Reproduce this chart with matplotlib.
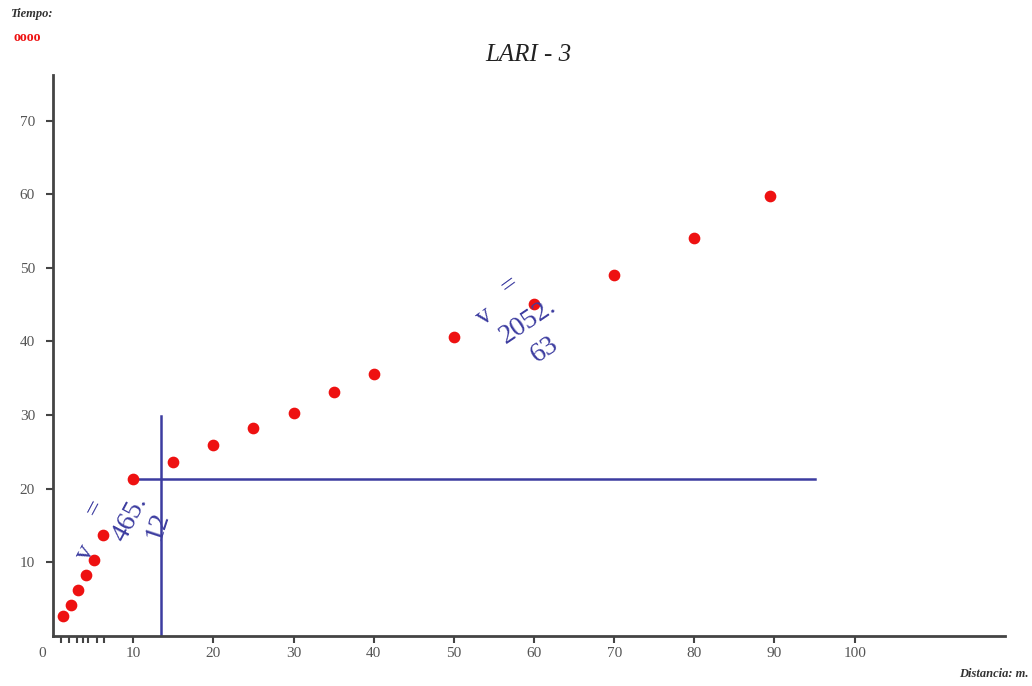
import matplotlib.pyplot as plt
from matplotlib.ticker import FixedLocator

# data
distancia = [1.2, 2.3, 3.1, 4.1, 5.1, 6.2, 10, 15, 20, 25, 30, 35, 40, 50, 60, 70, 80, 89.5]
tiempo = [2.7, 4.2, 6.3, 8.3, 10.3, 13.7, 21.3, 23.6, 26.0, 28.3, 30.3, 33.2, 35.6,
          40.6, 45.1, 49.0, 54.1, 59.8]
x_ticks = [10, 20, 30, 40, 50, 60, 70, 80, 90, 100]
x_minor = [1, 2, 3, 3.7, 4.4, 5.5, 6.4]
y_ticks = [10, 20, 30, 40, 50, 60, 70]

# crossover lines
t_cross = 21.3
x_cross = 13.5
x_line_end = 95
t_line_end = 29.9

serif = ['Liberation Serif', 'DejaVu Serif']
blue = '#3c3ca0'
grey = '#555555'

fig = plt.figure(figsize=(10.32, 6.86), dpi=100)
ax = fig.add_axes([0.0514, 0.0729, 0.922, 0.818])

ax.scatter(distancia, tiempo, s=55, color='#ee1111', zorder=3)
ax.plot([distancia[6], x_line_end], [t_cross, t_cross], color=blue, lw=1.8)
ax.plot([x_cross, x_cross], [0, t_line_end], color=blue, lw=1.8)

ax.set_xlim(0, 118.7)
ax.set_ylim(0, 76.2)

for s in ['top', 'right']:
    ax.spines[s].set_visible(False)
for s in ['left', 'bottom']:
    ax.spines[s].set_color('#444444')
    ax.spines[s].set_linewidth(2)

ax.set_xticks(x_ticks)
ax.set_yticks(y_ticks)
ax.xaxis.set_minor_locator(FixedLocator(x_minor))
ax.tick_params(axis='both', which='major', direction='out', length=5, width=1.5,
               color='#444444', labelcolor=grey, labelsize=11)
ax.tick_params(axis='x', which='minor', direction='out', length=5, width=1.5, color='#444444')
ax.tick_params(axis='y', pad=8)
ax.tick_params(axis='x', pad=3)
for lbl in ax.get_xticklabels() + ax.get_yticklabels():
    lbl.set_family(serif)
ax.text(-1.3, -1.5, '0', ha='center', va='top', fontsize=11, color=grey, family=serif)

ax.set_title('LARI - 3', fontsize=18, style='italic', family=serif, color='#222222', pad=10)

# velocity labels
kw = dict(color=blue, family=serif, ha='center', va='center')
ax.text(4.0, 11.3, 'v', rotation=62, fontsize=20, **kw)
ax.text(5.3, 17.4, '=', rotation=62, fontsize=20, **kw)
ax.text(9.6, 16.0, '465.', rotation=62, fontsize=20, **kw)
ax.text(13.0, 15.0, '12', rotation=72, fontsize=20, **kw)

ax.text(53.9, 43.4, 'v', rotation=36, fontsize=20, **kw)
ax.text(57.0, 47.5, '=', rotation=36, fontsize=20, **kw)
ax.text(59.3, 42.7, '2052.', rotation=34, fontsize=20, **kw)
ax.text(61.3, 38.9, '63', rotation=34, fontsize=20, **kw)

# axis names
fig.text(0.010, 0.980, 'Tiempo:', fontsize=9, style='italic', weight='bold', family=serif,
         color='#333333', va='center')
fig.text(0.013, 0.945, 'oooo', fontsize=10, weight='bold', family=serif, color='#ee1111', va='center')
fig.text(0.997, 0.018, 'Distancia: m.', fontsize=9, style='italic', weight='bold', family=serif,
         color='#333333', ha='right', va='center')

fig.savefig('out.png', dpi=100)
